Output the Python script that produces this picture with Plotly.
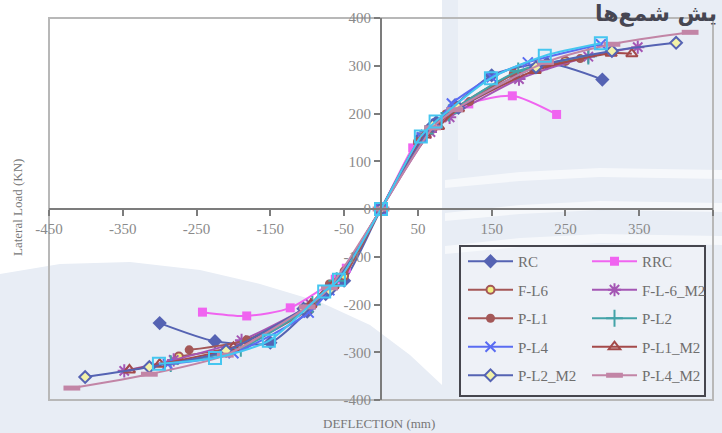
import plotly.graph_objects as go

# ---------------- data ----------------
rc_x = [-300, -225, -150, -100, -75, -50, 0, 55, 75, 100, 150, 225, 300]
rc_y = [-239, -277, -280, -215, -178, -150, 0, 152, 182, 217, 280, 305, 271]

rrc_x = [-242, -182, -123, -62, -47, 0, 43, 57, 119, 178, 238]
rrc_y = [-216, -224, -207, -147, -124, 0, 128, 152, 220, 237, 198]

fl6_x = [-274, -185, -100, -70, -50, 0, 50, 70, 104, 180, 250]
fl6_y = [-309, -283, -212, -165, -140, 0, 140, 168, 214, 283, 310]

fl6m2_x = [-348, -281, -189, -95, -65, 0, 67, 93, 187, 281, 348]
fl6m2_y = [-339, -316, -275, -200, -160, 0, 161, 192, 272, 319, 339]

pl1_x = [-260, -182, -100, -70, -50, 0, 50, 65, 88, 120, 180, 270]
pl1_y = [-295, -274, -205, -157, -130, 0, 138, 163, 199, 225, 282, 315]

pl2_x = [-285, -190, -93, -60, 0, 60, 92, 186, 281]
pl2_y = [-324, -292, -200, -150, 0, 158, 201, 289, 320]

pl4_x = [-289, -200, -98, -70, 0, 55, 75, 96, 150, 199, 298]
pl4_y = [-325, -302, -217, -170, 0, 150, 178, 221, 276, 307, 345]

pl1m2_x = [-341, -300, -200, -95, -65, 0, 60, 78, 105, 209, 312, 340]
pl1m2_y = [-337, -325, -290, -200, -160, 0, 155, 173, 210, 290, 326, 325]

pl2m2_x = [-401, -314, -210, -105, -70, 0, 70, 105, 210, 313, 400]
pl2m2_y = [-352, -331, -297, -209, -170, 0, 175, 212, 297, 331, 348]

pl4m2_x = [-419, -314, -211, -100, -70, 0, 70, 100, 223, 313, 419]
pl4m2_y = [-375, -346, -306, -205, -165, 0, 170, 208, 307, 345, 370]

extra_x = [-301, -225, -152, -77, -57, 0, 54, 74, 149, 222, 298]
extra_y = [-324, -312, -276, -173, -148, 0, 152, 183, 274, 321, 347]

x_ticks = [-450, -350, -250, -150, -50, 50, 150, 250, 350, 450]
y_ticks = [-400, -300, -200, -100, 0, 100, 200, 300, 400]

# ---------------- layout helpers ----------------
W, H = 722, 433
ML, MR, MT, MB = 49, 9, 18, 33
PW, PH = W - ML - MR, H - MT - MB


def px(x):
    return (x - ML) / PW


def py(y):
    return (H - MB - y) / PH


def path(points):
    return "M " + " L ".join(f"{px(a):.4f},{py(b):.4f}" for a, b in points) + " Z"


SERIF = "Liberation Serif"

series = [
    ("RC", rc_x, rc_y, "#5563b3", dict(symbol="diamond", size=11, color="#5563b3"), "legend"),
    ("RRC", rrc_x, rrc_y, "#f064f0", dict(symbol="square", size=9, color="#f064f0"), "legend2"),
    ("F-L6", fl6_x, fl6_y, "#a45656", dict(symbol="circle", size=8, color="#f0ee80",
                                            line=dict(color="#a45656", width=2)), "legend"),
    ("F-L-6_M2", fl6m2_x, fl6m2_y, "#a456b4", dict(symbol="asterisk-open", size=11,
                                                    line=dict(color="#a456b4", width=2)), "legend2"),
    ("P-L1", pl1_x, pl1_y, "#a45858", dict(symbol="circle", size=9, color="#a45858"), "legend"),
    ("P-L2", pl2_x, pl2_y, "#43a3a8", dict(symbol="cross-thin-open", size=12,
                                            line=dict(color="#43a3a8", width=2)), "legend2"),
    ("P-L4", pl4_x, pl4_y, "#5a6cf2", dict(symbol="x-thin-open", size=10,
                                            line=dict(color="#5a6cf2", width=2)), "legend"),
    ("P-L1_M2", pl1m2_x, pl1m2_y, "#a44a4a", dict(symbol="triangle-up-open", size=10,
                                                   line=dict(color="#a44a4a", width=2)), "legend2"),
    ("P-L2_M2", pl2m2_x, pl2m2_y, "#5563b3", dict(symbol="diamond", size=9, color="#f2f2a8",
                                                   line=dict(color="#5563b3", width=2)), "legend"),
    ("P-L4_M2", pl4m2_x, pl4m2_y, "#c285a6", dict(symbol="line-ew-open", size=12,
                                                   line=dict(color="#c285a6", width=5)), "legend2"),
]

fig = go.Figure()

for name, xs, ys, col, mk, lg in series:
    fig.add_trace(go.Scatter(
        x=xs, y=ys, name=name, mode="lines+markers",
        line=dict(color=col, width=2, shape="spline", smoothing=0.7),
        marker=mk, legend=lg, legendgroup=name,
    ))

fig.add_trace(go.Scatter(
    x=extra_x, y=extra_y, name="", mode="lines+markers", showlegend=False,
    line=dict(color="#45c6f0", width=2, shape="spline", smoothing=0.7),
    marker=dict(symbol="square-open", size=12, line=dict(color="#45c6f0", width=2)),
))

# watermark-like background and frames
shapes = []
bg = "#e8edf5"
shapes.append(dict(type="path", xref="paper", yref="paper", layer="below", line=dict(width=0),
                   fillcolor=bg, path=path([(442, 0), (722, 0), (722, 433), (442, 433)])))
shapes.append(dict(type="path", xref="paper", yref="paper", layer="below", line=dict(width=0),
                   fillcolor=bg, path=path([(0, 274), (60, 264), (130, 262), (200, 270), (260, 284),
                                            (320, 302), (370, 325), (410, 355), (442, 385),
                                            (442, 433), (0, 433)])))
shapes.append(dict(type="path", xref="paper", yref="paper", layer="below", line=dict(width=0),
                   fillcolor=bg, path=path([(0, 405), (442, 405), (442, 433), (0, 433)])))
# white wave stripes on the right
for yb in (172, 205, 238):
    shapes.append(dict(type="path", xref="paper", yref="paper", layer="below", line=dict(width=0),
                       fillcolor="rgba(255,255,255,0.6)",
                       path=path([(445, yb + 8), (520, yb), (600, yb - 4), (722, yb - 2),
                                  (722, yb + 7), (600, yb + 5), (520, yb + 9), (445, yb + 16)])))
# building-ish lighter area at top right
shapes.append(dict(type="path", xref="paper", yref="paper", layer="below", line=dict(width=0),
                   fillcolor="rgba(255,255,255,0.4)",
                   path=path([(458, 0), (540, 0), (540, 160), (458, 160)])))
# plot frame
shapes.append(dict(type="rect", xref="paper", yref="paper", layer="below",
                   x0=0, x1=1, y0=0, y1=1, line=dict(color="#b8b8b8", width=2)))
# legend box
shapes.append(dict(type="rect", xref="paper", yref="paper", layer="above",
                   x0=px(460), x1=px(705), y0=py(396), y1=py(246),
                   line=dict(color="#46464e", width=2), fillcolor="rgba(255,255,255,0.25)"))

axis_common = dict(
    showgrid=False, zeroline=False, showline=True, linecolor="#7c7c7c", linewidth=2,
    ticks="outside", ticklen=6, tickwidth=2, tickcolor="#7c7c7c",
    tickfont=dict(family=SERIF, size=15, color="#8a8a8a"),
    anchor="free", position=0.5,
)

legend_common = dict(xanchor="left", yanchor="top", bgcolor="rgba(0,0,0,0)",
                     font=dict(family=SERIF, size=15, color="#6e6e6e"), itemwidth=45,
                     traceorder="grouped", tracegroupgap=6)

fig.update_layout(
    width=W, height=H,
    margin=dict(l=ML, r=MR, t=MT, b=MB),
    paper_bgcolor="white", plot_bgcolor="rgba(0,0,0,0)",
    xaxis=dict(range=[-450, 450], tickvals=x_ticks, ticktext=[str(v) for v in x_ticks],
               **axis_common),
    yaxis=dict(range=[-400, 400], tickvals=y_ticks, ticktext=[str(v) for v in y_ticks],
               **axis_common),
    shapes=shapes,
    legend=dict(x=px(463), y=py(245), **legend_common),
    legend2=dict(x=px(587), y=py(245), **legend_common),
    annotations=[
        dict(text="DEFLECTION (mm)", xref="paper", yref="paper", x=px(379), y=py(423),
             xanchor="center", yanchor="middle",
             showarrow=False, font=dict(family=SERIF, size=13, color="#777777")),
        dict(text="Lateral Load (KN)", xref="paper", yref="paper", x=px(17), y=py(208),
             xanchor="center", yanchor="middle",
             textangle=-90, showarrow=False, font=dict(family=SERIF, size=13, color="#777777")),
        dict(text="یش شمع‌ها", xref="paper", yref="paper", x=px(719), y=py(14),
             xanchor="right", yanchor="middle", showarrow=False,
             font=dict(family="DejaVu Sans", size=22, color="#464652", weight="bold")),
    ],
    showlegend=True,
)

fig.write_html("out.html")
